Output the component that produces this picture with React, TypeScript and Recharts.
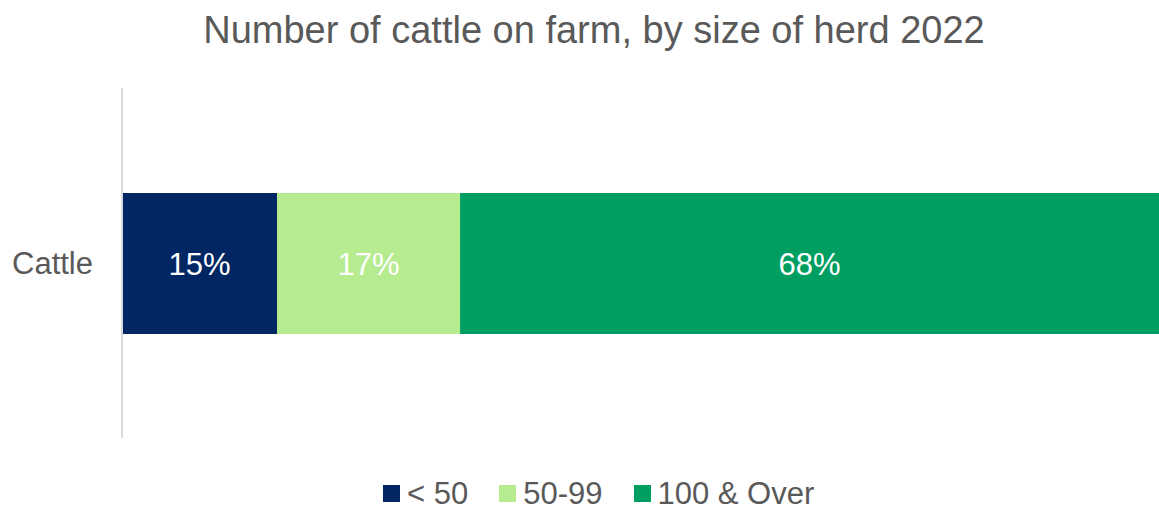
import { BarChart, Bar, XAxis, YAxis, LabelList } from 'recharts';

const categories = ['Cattle'];
const seriesNames = ['< 50', '50-99', '100 & Over'];
const seriesKeys = ['under50', 'from50to99', 'over100'];
// shares of cattle
const cattleShares = [14.95, 17.65, 67.4];
const shareLabels = ['15%', '17%', '68%'];
const colors = ['#002664', '#b7eb8f', '#009e60'];

const chartData = categories.map(name => {
  const row: { [key: string]: string | number } = { name };
  seriesKeys.forEach((key, i) => {
    row[key] = cattleShares[i];
  });
  return row;
});

const font = '"Liberation Sans", Arial, sans-serif';
const textGray = '#595959';

const App = () => {
  return (
    <div style={{ position: 'absolute', left: 0, top: 0, width: 1159, height: 509, background: '#fff', fontFamily: font }}>
      <div
        style={{
          position: 'absolute',
          left: 0,
          top: 11,
          width: 1188,
          textAlign: 'center',
          fontSize: 38,
          lineHeight: '38px',
          color: textGray,
        }}
      >
        Number of cattle on farm, by size of herd 2022
      </div>
      <BarChart
        width={1159}
        height={509}
        data={chartData}
        layout="vertical"
        margin={{ top: 88, right: 0, bottom: 71, left: 0 }}
      >
        <XAxis type="number" domain={[0, 100]} hide />
        <YAxis
          type="category"
          dataKey="name"
          width={122}
          axisLine={{ stroke: '#d9d9d9', strokeWidth: 2 }}
          tickLine={false}
          tickSize={0}
          tickMargin={29}
          tick={{ fill: textGray, fontSize: 31, fontFamily: font }}
        />
        {seriesKeys.map((key, i) => (
          <Bar
            key={key}
            dataKey={key}
            name={seriesNames[i]}
            stackId="herd"
            fill={colors[i]}
            barSize={141}
            isAnimationActive={false}
          >
            <LabelList
              dataKey={key}
              position="center"
              fill="#fff"
              fontSize={31}
              fontFamily={font}
              formatter={() => shareLabels[i]}
            />
          </Bar>
        ))}
      </BarChart>
      <div
        style={{
          position: 'absolute',
          left: 383,
          top: 478,
          display: 'flex',
          alignItems: 'center',
          fontSize: 31,
          lineHeight: '31px',
          color: textGray,
        }}
      >
        {seriesNames.map(name => (
          <div key={name} style={{ display: 'flex', alignItems: 'center', marginRight: 31 }}>
            <span style={{ display: 'inline-block', width: 17, height: 17, background: colors[seriesNames.indexOf(name)], marginRight: 7 }} />
            <span>{name}</span>
          </div>
        ))}
      </div>
    </div>
  );
};

export default App;
